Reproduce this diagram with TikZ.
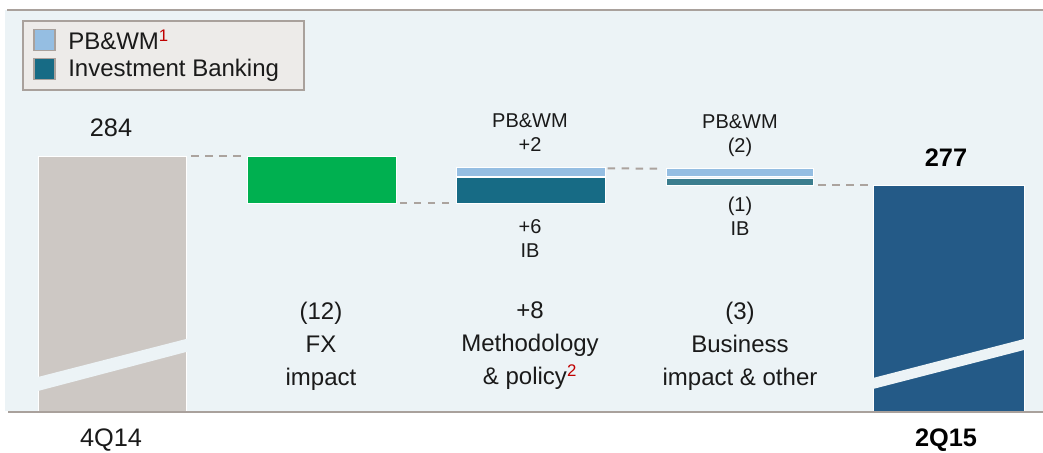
\documentclass[tikz,border=0pt]{standalone}
\usepackage{fontspec}
\setmainfont{Liberation Sans}
\definecolor{panel}{HTML}{ECF3F6}
\definecolor{rulegray}{HTML}{A9A19C}
\definecolor{linkgray}{HTML}{ABA39E}
\definecolor{startgray}{HTML}{CDC8C4}
\definecolor{fxgreen}{HTML}{00B050}
\definecolor{pbblue}{HTML}{95BEE2}
\definecolor{ibteal}{HTML}{176B85}
\definecolor{ibsoft}{HTML}{3B7D8E}
\definecolor{endblue}{HTML}{245A87}
\definecolor{legendfill}{HTML}{EDEBE9}
\definecolor{supred}{HTML}{C00000}
\definecolor{ink}{HTML}{1A1A1A}

\begin{document}
\begin{tikzpicture}[x=0.75pt,y=-0.75pt,
    bar/.style={draw=white, line width=0.6pt, inner sep=0pt, outer sep=0pt, anchor=north west, minimum width=111.75pt},
    link/.style={draw=linkgray, line width=1.5pt, dash pattern=on 5.6pt off 4.9pt},
    swatch/.style={draw=rulegray, line width=1.2pt, minimum size=16pt, inner sep=0pt},
    keytext/.style={anchor=west, inner sep=0pt, text=ink, font=\fontsize{18}{21}\selectfont},
    big/.style={align=center, text=ink, font=\fontsize{18}{24.75}\selectfont},
    small/.style={align=center, text=ink, font=\fontsize{15}{18}\selectfont},
    total/.style={text=ink, font=\fontsize{19}{22}\selectfont},
    totalbold/.style={text=black, font=\fontsize{19}{22}\selectfont\bfseries}]

    \useasboundingbox (0,0) rectangle (1043,453);
    \fill[white] (0,0) rectangle (1043,453);
    \fill[panel] (5,10) rectangle (1043,411);
    \draw[rulegray, line width=2pt] (7,10) -- (1043,10);

    \node[bar, fill=startgray, minimum width=111pt, minimum height=192.75pt] (q4) at (38,156) {};
    \node[bar, fill=fxgreen, minimum height=35.25pt] (fx) at (247,156) {};
    \node[bar, fill=pbblue, minimum height=6.75pt] (mpb) at (456,167) {};
    \node[bar, fill=ibteal, minimum height=19.5pt] (mib) at (456,177) {};
    \node[bar, fill=pbblue, minimum width=110.25pt, minimum height=6pt] (bpb) at (666,168) {};
    \node[bar, fill=ibsoft, minimum width=110.25pt, minimum height=5.25pt] (bib) at (666,178) {};
    \node[bar, fill=endblue, minimum width=113.25pt, minimum height=171pt] (q2) at (873,185) {};

    \fill[panel] (36,377.5) -- (188,338.5) -- (188,351.5) -- (36,391.5) -- cycle;
    \fill[panel] (871,378.5) -- (1026,338.5) -- (1026,349.5) -- (871,389.5) -- cycle;
    \draw[rulegray, line width=1.5pt] (8,411.5) -- (1043,411.5);

    \draw[link] ([xshift=4pt]q4.north east) -- ([xshift=-4pt]fx.north west);
    \draw[link] ([xshift=3pt]fx.south east) -- ([xshift=-4pt]mib.south west);
    \draw[link] ([xshift=2pt,yshift=-1pt]mpb.north east) -- ([xshift=-6pt,yshift=-0.5pt]bpb.north west);
    \draw[link] ([xshift=4pt]bib.south east) -- ([xshift=-4pt]q2.north west);

    \node[draw=rulegray, fill=legendfill, line width=1.5pt, anchor=north west, minimum width=210.75pt, minimum height=51.75pt, inner sep=0pt] (legend) at (22,20) {};
    \node[swatch, fill=pbblue] (keypb) at (44.5,40) {};
    \node[swatch, fill=ibteal] (keyib) at (44.5,69) {};
    \node[keytext] (keypbtext) at (68,40) {PB\&WM\textsuperscript{\color{supred}1}};
    \node[keytext] (keyibtext) at (68,70) {Investment Banking};

    \node[total] (q4val) at (111,128) {284};
    \node[totalbold] (q2val) at (946,158) {277};
    \node[total] (q4name) at (111,440) {4Q14};
    \node[totalbold] (q2name) at (946,440) {2Q15};

    \node[small] (mpbtxt) at (530,133) {PB\&WM\\+2};
    \node[small] (mibtxt) at (530,239) {+6\\IB};
    \node[small] (bpbtxt) at (740,136) {PB\&WM\\(2)};
    \node[small] (bibtxt) at (740,216) {(1)\\IB};

    \node[big] (fxtxt) at (321,346) {(12)\\FX\\impact};
    \node[big] (mtxt) at (530,346) {+8\\Methodology\\\& policy\textsuperscript{\color{supred}2}};
    \node[big] (btxt) at (740,346) {(3)\\Business\\impact \& other};
\end{tikzpicture}
\end{document}
